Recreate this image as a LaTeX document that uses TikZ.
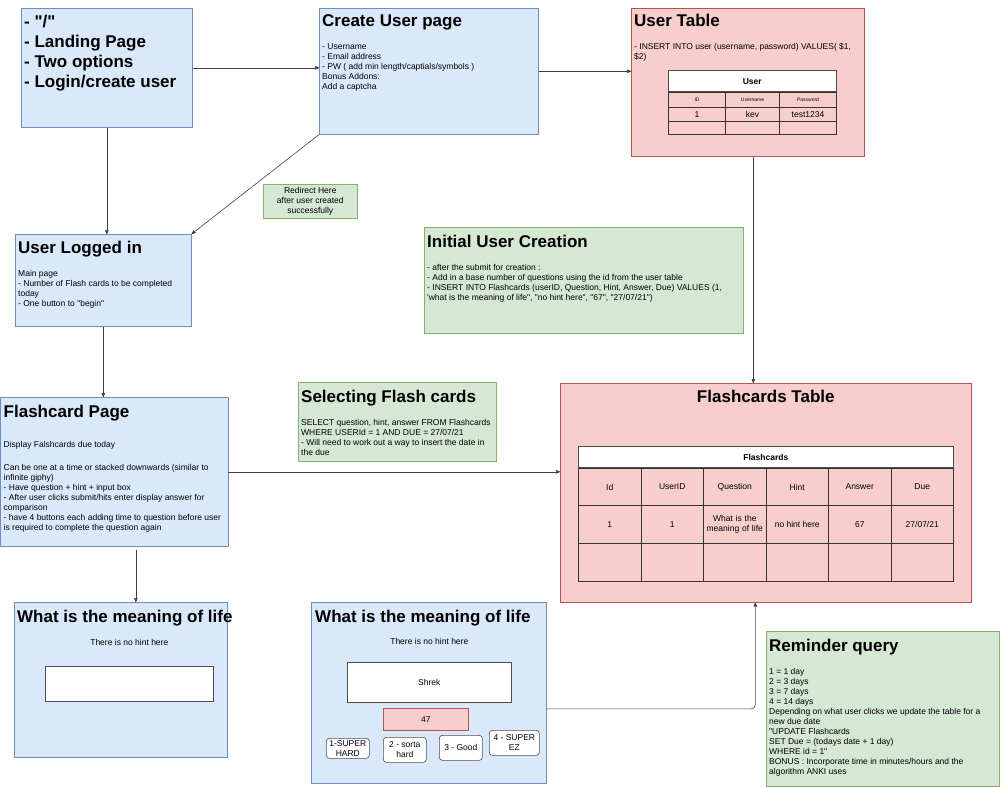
\documentclass[tikz,border=0pt]{standalone}
\usepackage{fontspec}
\setmainfont{Liberation Sans}
\usetikzlibrary{arrows,positioning,calc,matrix}
\definecolor{pagefill}{HTML}{DAE8FC}
\definecolor{pageline}{HTML}{6C8EBF}
\definecolor{tablefill}{HTML}{F8CECC}
\definecolor{tableline}{HTML}{B85450}
\definecolor{notefill}{HTML}{D5E8D4}
\definecolor{noteline}{HTML}{82B366}
\newcommand\headfont{\fontsize{17}{20}\selectfont\bfseries}
\newcommand\bodyfont{\fontsize{8.5}{10}\selectfont}
\newcommand\tinyfont{\fontsize{5}{6}\selectfont}
\newcommand\dq{\textquotedbl}
\tikzset{
  box/.style={anchor=north west, inner sep=0pt, line width=0.6pt},
  page/.style={box, draw=pageline, fill=pagefill},
  dbtable/.style={box, draw=tableline, fill=tablefill},
  note/.style={box, draw=noteline, fill=notefill},
  heading/.style={inner sep=0pt, font=\headfont},
  body/.style={inner sep=0pt, align=left, font=\bodyfont, execute at begin node=\strut},
  widget/.style={anchor=north west, draw=black!70, fill=white, inner sep=0pt,
    line width=0.6pt, font=\bodyfont, align=center},
  button/.style={widget, rounded corners=3pt},
  answer/.style={widget, draw=tableline, fill=tablefill},
  grid/.style={matrix of nodes, inner sep=0pt, nodes in empty cells,
    nodes={draw=black!80, line width=0.6pt, inner sep=0pt, font=\bodyfont, anchor=center},
    column sep=-0.6pt, row sep=-0.6pt},
  flow/.style={->, draw=black!75, line width=0.6pt}
}
\begin{document}
\begin{tikzpicture}[x=1pt, y=-1pt, >=stealth']
  \useasboundingbox (0,0) rectangle (1000,787);
  % landing page
  \node[page, minimum width=171pt, minimum height=119pt] (landing) at (21,8) {};
  \node[heading, align=left, execute at begin node=\strut, below right=7pt and 3pt of landing.north west] (landing-text)
    {- \dq/\dq\\- Landing Page\\- Two options\\- Login/create user};
  % create user page
  \node[page, minimum width=219pt, minimum height=126pt] (create) at (319,8) {};
  \node[heading, below right=18pt and 3pt of create.north west, anchor=base west] (create-title) {Create User page};
  \node[body, below right=35pt and 3pt of create.north west] (create-text)
    {- Username\\- Email address\\- PW ( add min length/captials/symbols )\\Bonus Addons:\\Add a captcha};
  % user table
  \node[dbtable, minimum width=233pt, minimum height=148pt] (users) at (631,8) {};
  \node[heading, below right=18pt and 3pt of users.north west, anchor=base west] (users-title) {User Table};
  \node[body, below right=35pt and 3pt of users.north west] (users-text)
    {- INSERT INTO user (username, password) VALUES( \$1,\\\$2)};
  \matrix[grid, anchor=north west,
    row 1/.style={nodes={font=\tinyfont, minimum height=15pt}},
    row 2/.style={nodes={minimum height=14pt}},
    row 3/.style={nodes={minimum height=13pt}},
    column 1/.style={nodes={minimum width=57pt}},
    column 2/.style={nodes={minimum width=54pt}},
    column 3/.style={nodes={minimum width=57pt}}] (users-grid) at (668,92) {
    ID & Username & Password \\
    1  & kev      & test1234 \\
       &          &          \\
  };
  \node[widget, font=\bodyfont\bfseries, minimum width=168pt, minimum height=21pt, anchor=south west]
    (users-head) at (users-grid.north west) {User};
  % redirect note
  \node[note, minimum width=94pt, minimum height=34pt, font=\bodyfont, align=center] (redirect) at (263,184)
    {Redirect Here\\after user created\\successfully};
  % user logged in
  \node[page, minimum width=176pt, minimum height=92pt] (logged) at (15,234) {};
  \node[heading, below right=19pt and 3pt of logged.north west, anchor=base west] (logged-title) {User Logged in};
  \node[body, below right=36pt and 3pt of logged.north west] (logged-text)
    {Main page\\- Number of Flash cards to be completed\\today\\- One button to \dq begin\dq};
  % initial user creation
  \node[note, minimum width=319pt, minimum height=106pt] (initial) at (424,227) {};
  \node[heading, below right=20pt and 3pt of initial.north west, anchor=base west] (initial-title) {Initial User Creation};
  \node[body, below right=37pt and 3pt of initial.north west] (initial-text)
    {- after the submit for creation :\\
     - Add in a base number of questions using the id from the user table\\
     - INSERT INTO Flashcards (userID, Question, Hint, Answer, Due) VALUES (1,\\
     \textquotesingle what is the meaning of life\dq, \dq no hint here\dq, \dq 67\dq, \dq 27/07/21\dq)};
  % flashcard page
  \node[page, minimum width=227pt, minimum height=149pt] (fcpage) at (0.5,397) {};
  \node[heading, below right=20pt and 3pt of fcpage.north west, anchor=base west] (fcpage-title) {Flashcard Page};
  \node[body, below right=44pt and 3pt of fcpage.north west] (fcpage-text)
    {Display Falshcards due today\\[13pt]
     Can be one at a time or stacked downwards (similar to\\
     infinite giphy)\\
     - Have question + hint + input box\\
     - After user clicks submit/hits enter display answer for\\
     comparison\\
     - have 4 buttons each adding time to question before user\\
     is required to complete the question again};
  % selecting flash cards
  \node[note, minimum width=198pt, minimum height=79pt] (selecting) at (298,382) {};
  \node[heading, below right=20pt and 3pt of selecting.north west, anchor=base west] (selecting-title) {Selecting Flash cards};
  \node[body, below right=37pt and 3pt of selecting.north west] (selecting-text)
    {SELECT question, hint, answer FROM Flashcards\\
     WHERE USERId = 1 AND DUE = 27/07/21\\
     - Will need to work out a way to insert the date in\\
     the due};
  % flashcards table
  \node[dbtable, minimum width=411pt, minimum height=219pt] (fctable) at (560,383) {};
  \node[heading, below=19pt of fctable.north, anchor=base] (fctable-title) {Flashcards Table};
  \matrix[grid, anchor=north west,
    nodes={minimum width=62.5pt},
    row 1/.style={nodes={minimum height=37pt}},
    row 2/.style={nodes={minimum height=38pt}},
    row 3/.style={nodes={minimum height=38pt}}] (fc-grid) at (578,468) {
    Id & UserID & Question & Hint & Answer & Due \\
    1  & 1      & |[text width=58pt, align=center]| What is the meaning of life & no hint here & 67 & 27/07/21 \\
       &        &          &      &        &     \\
  };
  \node[widget, font=\bodyfont\bfseries, minimum width=375pt, minimum height=21pt, anchor=south west]
    (fc-head) at (fc-grid.north west) {Flashcards};
  % question card
  \node[page, minimum width=213pt, minimum height=155pt] (ask) at (14,602) {};
  \node[heading, below right=20pt and 3pt of ask.north west, anchor=base west] (ask-title) {What is the meaning of life};
  \node[widget, minimum width=168pt, minimum height=35pt] (ask-input) at (45,666) {};
  \node[font=\bodyfont, inner sep=0pt, above=20pt of ask-input] (ask-hint) {There is no hint here};
  % answered card
  \node[page, minimum width=235pt, minimum height=181pt] (reply) at (311,602) {};
  \node[heading, below right=20pt and 4pt of reply.north west, anchor=base west] (reply-title) {What is the meaning of life};
  \node[widget, minimum width=164pt, minimum height=40pt] (reply-input) at (347,662) {Shrek};
  \node[font=\bodyfont, inner sep=0pt, above=17pt of reply-input] (reply-hint) {There is no hint here};
  \node[answer, minimum width=85pt, minimum height=22pt] (reply-answer) at (383,708) {47};
  \node[button, minimum width=43pt, minimum height=20pt] (hard) at (326,738) {1-SUPER\\HARD};
  \node[button, minimum width=43pt, minimum height=25pt] (sorta) at (383,737) {2 - sorta\\hard};
  \node[button, minimum width=43pt, minimum height=25pt] (good) at (439,735) {3 - Good};
  \node[button, minimum width=50pt, minimum height=25pt] (easy) at (489,730) {4 - SUPER\\EZ};
  % reminder query
  \node[note, minimum width=232.5pt, minimum height=155pt] (reminder) at (766,631) {};
  \node[heading, below right=20pt and 3pt of reminder.north west, anchor=base west] (reminder-title) {Reminder query};
  \node[body, below right=37pt and 3pt of reminder.north west] (reminder-text)
    {1 = 1 day\\2 = 3 days\\3 = 7 days\\4 = 14 days\\
     Depending on what user clicks we update the table for a\\
     new due date\\
     \dq UPDATE Flashcards\\
     SET Due = (todays date + 1 day)\\
     WHERE id = 1\dq\\
     BONUS : Incorporate time in minutes/hours and the\\
     algorithm ANKI uses};
  % connectors
  \coordinate (users-drop) at ([xshift=5.5pt]users.south);
  \coordinate (fcpage-drop) at ([xshift=21.5pt, yshift=-3pt]fcpage.south);
  \coordinate (reply-out) at ([yshift=-16pt]reply.east);
  \coordinate (fctable-in) at ([xshift=-10.5pt]fctable.south);
  \draw[flow] (landing.east) -- (landing.east -| create.west);
  \draw[flow] (create.east) -- (create.east -| users.west);
  \draw[flow] (landing.south) -- (landing.south |- logged.north);
  \draw[flow] (create.south west) -- (logged.north east);
  \draw[flow] (users-drop) -- (users-drop |- fctable.north);
  \draw[flow] (logged.south) -- (logged.south |- fcpage.north);
  \draw[flow] (fcpage.east) -- (fcpage.east -| fctable.west);
  \draw[flow] (fcpage-drop) -- (fcpage-drop |- ask.north);
  \draw[flow, rounded corners=4pt] (reply-out) -| (fctable-in);
\end{tikzpicture}
\end{document}
